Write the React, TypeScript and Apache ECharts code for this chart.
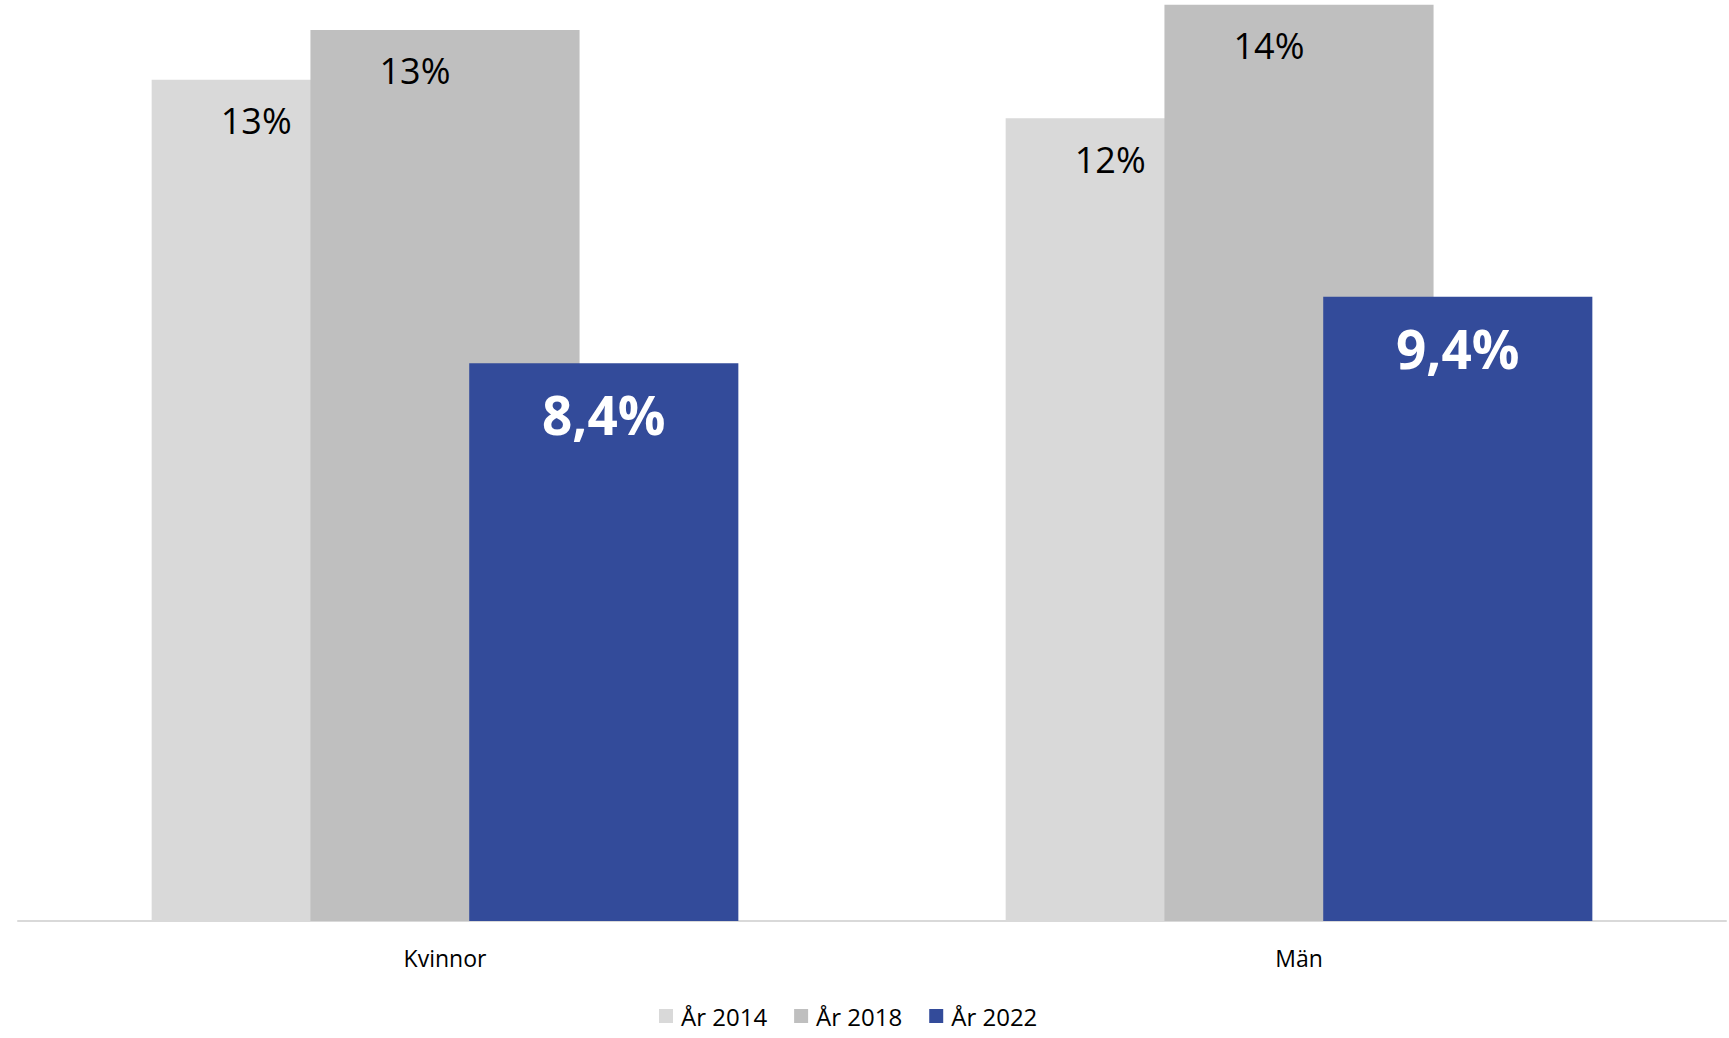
import React, { useEffect, useRef } from "react";
import * as echarts from "echarts";

const categories = ["Kvinnor", "Män"];
const seriesNames = ["År 2014", "År 2018", "År 2022"];
const values2014 = [12.67, 12.09];
const values2018 = [13.42, 13.8];
const values2022 = [8.4, 9.4];
const colors = ["#d9d9d9", "#bfbfbf", "#334b9a"];
const yMax = 13.87;

const FONT = "'Open Sans', sans-serif";

export default function App() {
  const ref = useRef<HTMLDivElement>(null);
  useEffect(() => {
    document.body.style.margin = "0";
    if (!ref.current) return;
    const chart = echarts.init(ref.current, null, { renderer: "svg" });
    const grayLabel = {
      show: true,
      position: "insideTop",
      distance: 0,
      offset: [-30, 23],
      color: "#000000",
      fontFamily: FONT,
      fontSize: 36,
      formatter: (p: any) => Math.round(p.value) + "%",
    };
    const blueLabel = {
      show: true,
      position: "insideTop",
      distance: 0,
      offset: [0, 25],
      color: "#ffffff",
      fontFamily: FONT,
      fontWeight: "bold",
      fontSize: 53,
      formatter: (p: any) => p.value.toFixed(1).replace(".", ",") + "%",
    };
    const data = [values2014, values2018, values2022];
    chart.setOption({
      animation: false,
      backgroundColor: "#ffffff",
      grid: { left: 18, right: 3, top: 0, bottom: 117 },
      legend: {
        left: 654,
        top: 999,
        itemWidth: 14,
        itemHeight: 14,
        itemGap: 27,
        icon: "rect",
        textStyle: {
          fontFamily: FONT,
          fontSize: 24,
          color: "#000000",
          padding: [0, 0, 0, 3],
        },
        data: seriesNames,
      },
      xAxis: {
        type: "category",
        data: categories,
        axisLine: { show: true, lineStyle: { color: "#d9d9d9", width: 2 } },
        axisTick: { show: false },
        axisLabel: {
          margin: 25,
          fontFamily: FONT,
          fontSize: 23,
          color: "#000000",
        },
      },
      yAxis: {
        type: "value",
        min: 0,
        max: yMax,
        show: false,
        splitLine: { show: false },
      },
      series: seriesNames.map((name, i) => ({
        name,
        type: "bar",
        data: data[i],
        barGap: "-41%",
        barCategoryGap: "31.3%",
        itemStyle: { color: colors[i] },
        label: i === 2 ? blueLabel : grayLabel,
      })),
    });
    return () => chart.dispose();
  }, []);
  return <div ref={ref} style={{ width: 1729, height: 1038 }} />;
}
